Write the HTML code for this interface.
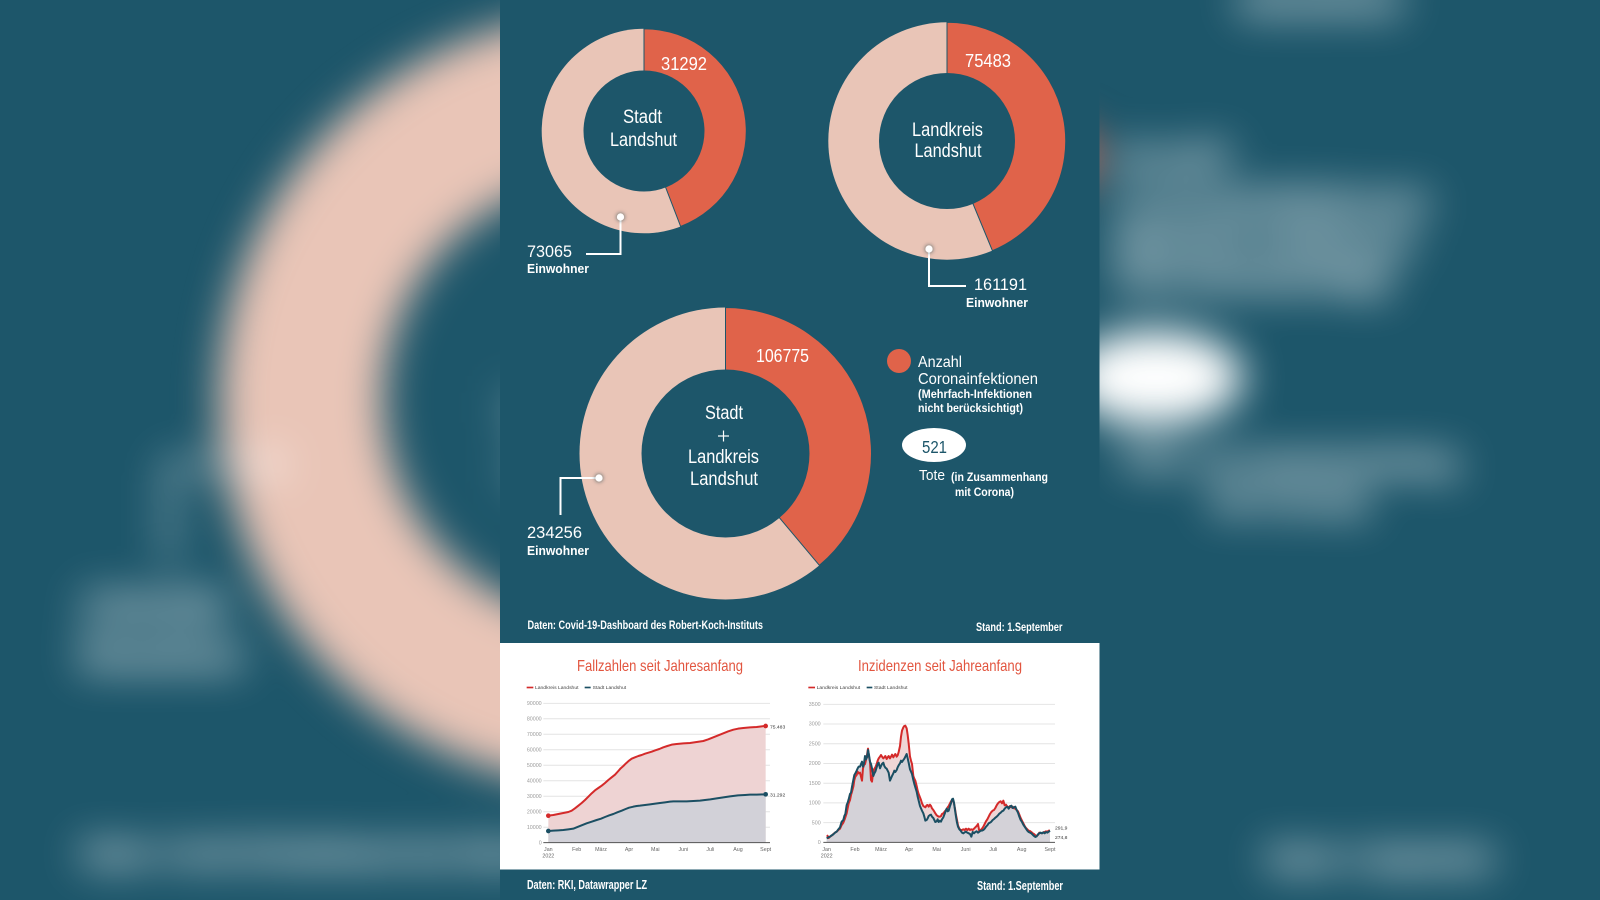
<!DOCTYPE html>
<html><head><meta charset="utf-8">
<style>
html,body{margin:0;padding:0;background:#1d566a;width:1600px;height:900px;overflow:hidden;}
svg{display:block;position:absolute;left:0;top:0;}
.n{font-family:"Liberation Sans Narrow","Liberation Sans",sans-serif;fill:#fff;}
.b{font-weight:bold;}
.t{font-family:"Liberation Sans",sans-serif;}
.s{stroke:#fff;stroke-width:0.4;}
</style></head>
<body>
<svg width="1600" height="900" viewBox="0 0 1600 900" xmlns="http://www.w3.org/2000/svg">
<defs>
<filter id="blur" filterUnits="userSpaceOnUse" x="0" y="0" width="1600" height="900" color-interpolation-filters="sRGB">
<feGaussianBlur stdDeviation="21"/>
</filter>
<filter id="dsh" x="-3" y="-3" width="7" height="7">
<feDropShadow dx="0" dy="0" stdDeviation="2" flood-color="#0a2a36" flood-opacity="0.8"/>
</filter>
</defs>
<rect x="0" y="0" width="1600" height="900" fill="#1d566a"/>

<g filter="url(#blur)">
<g transform="translate(605,400) scale(2.64) translate(-725.5,-453.5)">
<circle cx="725.5" cy="453.5" r="146" fill="#e9c5b7"/>
<path d="M725.5 453.5 L725.5 307.5 A146 146 0 0 1 819.35 565.34 Z" fill="#e0634a"/>
<circle cx="725.5" cy="453.5" r="84" fill="#1d566a"/>
<polyline points="599,478 560.5,478 560.5,515" fill="none" stroke="#fff" stroke-width="2.2"/>
<circle cx="599" cy="478" r="4.2" fill="#fff"/>
<text class="n s" x="974" y="290" font-size="17" textLength="53" lengthAdjust="spacingAndGlyphs">161191</text>
<text class="n b s" x="966" y="307" font-size="12.5" textLength="62" lengthAdjust="spacingAndGlyphs">Einwohner</text>
<text class="n s" x="527" y="538" font-size="17" textLength="55" lengthAdjust="spacingAndGlyphs">234256</text>
<text class="n b s" x="527" y="555" font-size="12.5" textLength="62" lengthAdjust="spacingAndGlyphs">Einwohner</text>
<text class="n s" x="724" y="419" font-size="19" text-anchor="middle" textLength="38" lengthAdjust="spacingAndGlyphs">Stadt</text>
<text class="n s" x="723.5" y="442" font-size="17" text-anchor="middle">+</text>
<text class="n s" x="723.5" y="463" font-size="19" text-anchor="middle" textLength="71" lengthAdjust="spacingAndGlyphs">Landkreis</text>
<text class="n s" x="724" y="485" font-size="19" text-anchor="middle" textLength="68" lengthAdjust="spacingAndGlyphs">Landshut</text>
<circle cx="899" cy="361" r="12" fill="#e0634a"/>
<text class="n s" x="918" y="367" font-size="16" textLength="44" lengthAdjust="spacingAndGlyphs">Anzahl</text>
<text class="n s" x="918" y="384" font-size="16" textLength="120" lengthAdjust="spacingAndGlyphs">Coronainfektionen</text>
<text class="n b s" x="918" y="398" font-size="12" textLength="114" lengthAdjust="spacingAndGlyphs">(Mehrfach-Infektionen</text>
<text class="n b s" x="918" y="412" font-size="12" textLength="105" lengthAdjust="spacingAndGlyphs">nicht berücksichtigt)</text>
<ellipse cx="934" cy="445" rx="33" ry="18" fill="#fff"/>
<text class="n s" x="919" y="480" font-size="15" textLength="26" lengthAdjust="spacingAndGlyphs">Tote</text>
<text class="n b s" x="951" y="481" font-size="12" textLength="97" lengthAdjust="spacingAndGlyphs">(in Zusammenhang</text>
<text class="n b s" x="955" y="496" font-size="12" textLength="59" lengthAdjust="spacingAndGlyphs">mit Corona)</text>
<text class="n b s" x="527.5" y="629" font-size="11.5" textLength="235.5" lengthAdjust="spacingAndGlyphs">Daten: Covid-19-Dashboard des Robert-Koch-Instituts</text>
<text class="n b s" x="976" y="631" font-size="11.5" textLength="86.5" lengthAdjust="spacingAndGlyphs">Stand: 1.September</text>
</g>
</g>

<!-- central panel -->
<rect x="500" y="0" width="599.5" height="643" fill="#1d566a"/>
<rect x="500" y="643" width="599.5" height="226.5" fill="#ffffff"/>
<rect x="500" y="869.5" width="599.5" height="30.5" fill="#1d566a"/>

<!-- donut 1 -->
<circle cx="644" cy="131" r="102.3" fill="#e9c5b7"/>
<path d="M644 131 L644 28.7 A102.3 102.3 0 0 1 680.66 226.5 Z" fill="#e0634a" stroke="#1d566a" stroke-width="1"/>
<circle cx="644" cy="131" r="60.5" fill="#1d566a"/>
<text class="n" x="684" y="70" font-size="18" text-anchor="middle" textLength="46" lengthAdjust="spacingAndGlyphs">31292</text>
<text class="n" x="642.5" y="123" font-size="19" text-anchor="middle" textLength="39" lengthAdjust="spacingAndGlyphs">Stadt</text>
<text class="n" x="643.5" y="146" font-size="19" text-anchor="middle" textLength="67" lengthAdjust="spacingAndGlyphs">Landshut</text>
<polyline points="620.5,217 620.5,254 586,254" fill="none" stroke="#fff" stroke-width="2"/>
<circle cx="620.5" cy="217" r="3.6" fill="#fff" filter="url(#dsh)"/>
<text class="n" x="527" y="257" font-size="17" textLength="45" lengthAdjust="spacingAndGlyphs">73065</text>
<text class="n b" x="527" y="273" font-size="12.5" textLength="62" lengthAdjust="spacingAndGlyphs">Einwohner</text>

<!-- donut 2 -->
<circle cx="947" cy="141" r="118.7" fill="#e9c5b7"/>
<path d="M947 141 L947 22.3 A118.7 118.7 0 0 1 992.43 250.67 Z" fill="#e0634a" stroke="#1d566a" stroke-width="1"/>
<circle cx="947" cy="141" r="68" fill="#1d566a"/>
<text class="n" x="988" y="67" font-size="18" text-anchor="middle" textLength="46" lengthAdjust="spacingAndGlyphs">75483</text>
<text class="n" x="947.5" y="136" font-size="19" text-anchor="middle" textLength="71" lengthAdjust="spacingAndGlyphs">Landkreis</text>
<text class="n" x="948" y="157" font-size="19" text-anchor="middle" textLength="67" lengthAdjust="spacingAndGlyphs">Landshut</text>
<polyline points="929,249 929,286 966,286" fill="none" stroke="#fff" stroke-width="2"/>
<circle cx="929" cy="249" r="3.6" fill="#fff" filter="url(#dsh)"/>
<text class="n" x="974" y="290" font-size="17" textLength="53" lengthAdjust="spacingAndGlyphs">161191</text>
<text class="n b" x="966" y="307" font-size="12.5" textLength="62" lengthAdjust="spacingAndGlyphs">Einwohner</text>

<!-- donut 3 -->
<circle cx="725.5" cy="453.5" r="146" fill="#e9c5b7"/>
<path d="M725.5 453.5 L725.5 307.5 A146 146 0 0 1 819.35 565.34 Z" fill="#e0634a" stroke="#1d566a" stroke-width="1"/>
<circle cx="725.5" cy="453.5" r="84" fill="#1d566a"/>
<text class="n" x="782.5" y="362" font-size="18" text-anchor="middle" textLength="53" lengthAdjust="spacingAndGlyphs">106775</text>
<text class="n" x="724" y="419" font-size="19" text-anchor="middle" textLength="38" lengthAdjust="spacingAndGlyphs">Stadt</text>
<line x1="718" y1="436" x2="729" y2="436" stroke="#fff" stroke-width="1.2"/>
<line x1="723.5" y1="430.5" x2="723.5" y2="441.5" stroke="#fff" stroke-width="1.2"/>
<text class="n" x="723.5" y="463" font-size="19" text-anchor="middle" textLength="71" lengthAdjust="spacingAndGlyphs">Landkreis</text>
<text class="n" x="724" y="485" font-size="19" text-anchor="middle" textLength="68" lengthAdjust="spacingAndGlyphs">Landshut</text>
<polyline points="599,478 560.5,478 560.5,515" fill="none" stroke="#fff" stroke-width="2"/>
<circle cx="599" cy="478" r="3.6" fill="#fff" filter="url(#dsh)"/>
<text class="n" x="527" y="538" font-size="17" textLength="55" lengthAdjust="spacingAndGlyphs">234256</text>
<text class="n b" x="527" y="555" font-size="12.5" textLength="62" lengthAdjust="spacingAndGlyphs">Einwohner</text>

<!-- legend -->
<circle cx="899" cy="361" r="12" fill="#e0634a"/>
<text class="n" x="918" y="367" font-size="16" textLength="44" lengthAdjust="spacingAndGlyphs">Anzahl</text>
<text class="n" x="918" y="384" font-size="16" textLength="120" lengthAdjust="spacingAndGlyphs">Coronainfektionen</text>
<text class="n b" x="918" y="398" font-size="12" textLength="114" lengthAdjust="spacingAndGlyphs">(Mehrfach-Infektionen</text>
<text class="n b" x="918" y="412" font-size="12" textLength="105" lengthAdjust="spacingAndGlyphs">nicht berücksichtigt)</text>
<ellipse cx="934" cy="445" rx="32" ry="17" fill="#fff"/>
<text class="n" x="934.5" y="453" font-size="17.5" text-anchor="middle" textLength="25" lengthAdjust="spacingAndGlyphs" style="fill:#1d566a">521</text>
<text class="n" x="919" y="480" font-size="15" textLength="26" lengthAdjust="spacingAndGlyphs">Tote</text>
<text class="n b" x="951" y="481" font-size="12" textLength="97" lengthAdjust="spacingAndGlyphs">(in Zusammenhang</text>
<text class="n b" x="955" y="496" font-size="12" textLength="59" lengthAdjust="spacingAndGlyphs">mit Corona)</text>

<text class="n b" x="527.5" y="629" font-size="11.5" textLength="235.5" lengthAdjust="spacingAndGlyphs">Daten: Covid-19-Dashboard des Robert-Koch-Instituts</text>
<text class="n b" x="976" y="631" font-size="11.5" textLength="86.5" lengthAdjust="spacingAndGlyphs">Stand: 1.September</text>

<!-- chart titles -->
<text class="n" x="660" y="671" font-size="16" text-anchor="middle" textLength="166" lengthAdjust="spacingAndGlyphs" style="fill:#e2553f">Fallzahlen seit Jahresanfang</text>
<text class="n" x="940" y="671" font-size="16" text-anchor="middle" textLength="164" lengthAdjust="spacingAndGlyphs" style="fill:#e2553f">Inzidenzen seit Jahreanfang</text>

<!-- chart 1 (zoom coords) -->
<g transform="translate(500,640) scale(0.33333)">
<g stroke="#e4e4e4" stroke-width="3">
<line x1="130" y1="190" x2="810" y2="190"/>
<line x1="130" y1="236.4" x2="810" y2="236.4"/>
<line x1="130" y1="282.9" x2="810" y2="282.9"/>
<line x1="130" y1="329.3" x2="810" y2="329.3"/>
<line x1="130" y1="375.8" x2="810" y2="375.8"/>
<line x1="130" y1="422.2" x2="810" y2="422.2"/>
<line x1="130" y1="468.7" x2="810" y2="468.7"/>
<line x1="130" y1="515.1" x2="810" y2="515.1"/>
<line x1="130" y1="561.6" x2="810" y2="561.6"/>
</g>
<g class="t" font-size="16" fill="#9a9a9a" text-anchor="end">
<text x="125" y="195">90000</text>
<text x="125" y="241">80000</text>
<text x="125" y="288">70000</text>
<text x="125" y="334">60000</text>
<text x="125" y="381">50000</text>
<text x="125" y="427">40000</text>
<text x="125" y="474">30000</text>
<text x="125" y="520">20000</text>
<text x="125" y="567">10000</text>
<text x="125" y="613">0</text>
</g>
<rect x="80" y="140" width="20" height="5" fill="#d42a2a"/>
<text class="t" x="105" y="147" font-size="15" fill="#444">Landkreis Landshut</text>
<rect x="254" y="140" width="18" height="5" fill="#1b4f63"/>
<text class="t" x="278" y="147" font-size="15" fill="#444">Stadt Landshut</text>
<polygon fill="#eed3d3" points="145,527 160,525 175,522 190,519 205,516 215,512 225,505 235,497 245,489 255,480 265,470 275,460 285,451 295,444 305,437 315,429 325,420 335,412 345,404 355,393 362,385 370,378 378,370 387,362 395,356 405,352 415,348 425,345 435,341 445,338 455,335 466,331 478,327 490,322 502,318 515,314 530,312 550,310 570,309 590,306 610,303 625,298 640,292 655,286 670,280 685,274 700,269 714,266 730,264 750,262 770,261 785,259 797,258 797,608 145,608"/>
<polygon fill="#d2d1d8" points="145,573 160,572 175,571 190,570 205,568 220,566 230,562 245,556 260,550 275,545 290,540 303,536 315,531 328,526 340,522 352,517 365,512 377,507 387,503 400,500 410,498 420,497 435,495 450,493 466,491 480,489 495,487 510,485 520,484 540,484 560,484 580,483 600,482 615,480 631,478 650,475 670,472 690,469 714,466 735,465 750,464 770,464 797,463 797,608 145,608"/>
<line x1="130" y1="608" x2="810" y2="608" stroke="#555" stroke-width="3"/>
<polyline fill="none" stroke="#d42a2a" stroke-width="6" stroke-linejoin="round" points="145,527 160,525 175,522 190,519 205,516 215,512 225,505 235,497 245,489 255,480 265,470 275,460 285,451 295,444 305,437 315,429 325,420 335,412 345,404 355,393 362,385 370,378 378,370 387,362 395,356 405,352 415,348 425,345 435,341 445,338 455,335 466,331 478,327 490,322 502,318 515,314 530,312 550,310 570,309 590,306 610,303 625,298 640,292 655,286 670,280 685,274 700,269 714,266 730,264 750,262 770,261 785,259 797,258"/>
<polyline fill="none" stroke="#1b4f63" stroke-width="6" stroke-linejoin="round" points="145,573 160,572 175,571 190,570 205,568 220,566 230,562 245,556 260,550 275,545 290,540 303,536 315,531 328,526 340,522 352,517 365,512 377,507 387,503 400,500 410,498 420,497 435,495 450,493 466,491 480,489 495,487 510,485 520,484 540,484 560,484 580,483 600,482 615,480 631,478 650,475 670,472 690,469 714,466 735,465 750,464 770,464 797,463"/>
<circle cx="145" cy="527" r="7" fill="#d42a2a"/>
<circle cx="145" cy="573" r="7" fill="#1b4f63"/>
<circle cx="797" cy="258" r="7" fill="#d42a2a"/>
<circle cx="797" cy="463" r="7" fill="#1b4f63"/>
<text class="t" x="810" y="265" font-size="15" fill="#333">75.483</text>
<text class="t" x="810" y="470" font-size="15" fill="#333">31.292</text>
<g class="t" font-size="16" fill="#666" text-anchor="middle">
<text x="145" y="633">Jan</text><text x="145" y="652">2022</text>
<text x="230" y="633">Feb</text>
<text x="303" y="633">März</text>
<text x="387" y="633">Apr</text>
<text x="466" y="633">Mai</text>
<text x="550" y="633">Juni</text>
<text x="631" y="633">Juli</text>
<text x="714" y="633">Aug</text>
<text x="797" y="633">Sept</text>
</g>
</g>

<!-- chart 2 (zoom coords) -->
<g transform="translate(790,640) scale(0.33333)">
<g stroke="#e4e4e4" stroke-width="3">
<line x1="100" y1="193" x2="795" y2="193"/>
<line x1="100" y1="252.1" x2="795" y2="252.1"/>
<line x1="100" y1="311.3" x2="795" y2="311.3"/>
<line x1="100" y1="370.4" x2="795" y2="370.4"/>
<line x1="100" y1="429.6" x2="795" y2="429.6"/>
<line x1="100" y1="488.7" x2="795" y2="488.7"/>
<line x1="100" y1="547.9" x2="795" y2="547.9"/>
</g>
<g class="t" font-size="16" fill="#9a9a9a" text-anchor="end">
<text x="92" y="198">3500</text>
<text x="92" y="257">3000</text>
<text x="92" y="316">2500</text>
<text x="92" y="375">2000</text>
<text x="92" y="435">1500</text>
<text x="92" y="494">1000</text>
<text x="92" y="553">500</text>
<text x="92" y="612">0</text>
</g>
<rect x="55" y="140" width="20" height="5" fill="#d42a2a"/>
<text class="t" x="80" y="147" font-size="15" fill="#444">Landkreis Landshut</text>
<rect x="230" y="140" width="17" height="5" fill="#1b4f63"/>
<text class="t" x="252" y="147" font-size="15" fill="#444">Stadt Landshut</text>
<polygon fill="#efd6d6" points="110,586 113,588 116,594 120,590 125,587 130,582 135,578 140,575 145,570 150,566 155,555 160,548 165,535 170,520 173,505 176,490 180,480 183,465 186,455 190,440 193,420 196,410 200,405 203,395 206,400 210,398 213,410 216,422 219,385 222,375 225,372 228,360 231,345 234,326 237,350 240,365 243,420 246,425 249,400 252,388 256,382 260,372 263,362 266,355 270,350 273,345 276,350 280,355 283,352 286,348 290,357 293,352 296,348 300,355 303,350 306,344 310,352 313,346 316,342 320,350 323,346 326,336 330,318 333,290 336,272 340,262 343,258 346,257 350,265 353,285 356,310 360,350 363,362 366,372 370,408 373,416 376,422 380,438 383,452 386,462 390,472 393,480 396,490 400,498 403,500 406,502 410,496 413,495 416,500 420,494 423,498 426,505 430,510 433,515 436,520 440,526 443,528 446,530 450,530 453,528 456,522 460,520 463,516 466,512 470,508 473,502 476,498 480,490 483,484 486,480 489,478 492,490 495,506 498,525 501,540 504,556 508,566 512,570 516,570 520,568 524,570 528,566 532,570 536,566 540,570 544,568 548,570 552,566 556,562 560,558 564,552 568,574 572,570 576,566 580,560 584,552 588,544 592,538 596,530 600,522 604,516 608,512 612,510 616,504 620,496 624,490 628,486 632,484 636,490 640,482 644,496 648,494 652,500 656,502 660,498 664,502 668,500 672,505 676,506 680,510 684,514 688,524 692,534 696,542 700,550 704,558 708,564 712,568 716,572 720,573 724,576 728,580 732,582 736,586 740,588 744,585 748,578 752,579 756,580 760,577 764,576 768,574 772,575 776,572 780,572 780,607 110,607"/>
<polygon fill="#d4d2d8" points="110,595 115,592 120,590 125,586 130,583 135,578 140,575 145,568 150,562 155,545 160,540 163,528 166,522 170,495 173,488 176,478 180,462 183,458 186,440 190,420 193,405 196,400 200,392 203,385 206,380 210,380 213,372 216,365 219,380 222,370 225,348 228,358 231,352 234,330 237,345 240,365 243,372 246,385 250,408 253,400 256,395 260,382 263,372 266,368 270,385 273,378 276,372 280,368 283,378 286,383 290,386 293,392 296,398 300,422 303,415 306,408 310,400 313,392 316,396 320,390 323,382 326,376 330,370 333,362 336,366 340,360 343,356 346,350 350,342 353,355 356,368 360,388 363,395 366,402 370,420 373,432 376,442 380,455 383,470 386,482 390,498 393,505 396,512 400,520 403,530 406,542 410,540 413,535 416,528 420,525 423,524 426,530 430,534 433,540 436,546 440,544 443,538 446,546 450,542 453,545 456,538 460,532 463,524 466,516 470,506 473,514 476,512 480,498 483,490 486,478 489,476 492,488 495,510 498,530 501,548 504,560 508,568 512,572 516,578 520,580 524,577 528,575 532,578 536,580 540,582 544,590 548,576 552,580 556,576 560,574 564,578 568,575 572,572 576,572 580,570 584,566 588,560 592,556 596,550 600,548 604,545 608,540 612,537 616,533 620,530 624,526 628,521 632,518 636,514 640,512 644,506 648,502 652,500 656,506 660,500 664,497 668,504 672,502 676,500 680,510 684,518 688,530 692,540 696,546 700,554 704,560 708,566 712,572 716,576 720,578 724,580 728,584 732,588 736,591 740,589 744,583 748,580 752,578 756,580 760,577 764,580 768,576 772,578 776,575 780,572 780,607 110,607"/>
<line x1="100" y1="607" x2="795" y2="607" stroke="#555" stroke-width="3"/>
<polyline fill="none" stroke="#d42a2a" stroke-width="6" stroke-linejoin="round" points="110,586 113,588 116,594 120,590 125,587 130,582 135,578 140,575 145,570 150,566 155,555 160,548 165,535 170,520 173,505 176,490 180,480 183,465 186,455 190,440 193,420 196,410 200,405 203,395 206,400 210,398 213,410 216,422 219,385 222,375 225,372 228,360 231,345 234,326 237,350 240,365 243,420 246,425 249,400 252,388 256,382 260,372 263,362 266,355 270,350 273,345 276,350 280,355 283,352 286,348 290,357 293,352 296,348 300,355 303,350 306,344 310,352 313,346 316,342 320,350 323,346 326,336 330,318 333,290 336,272 340,262 343,258 346,257 350,265 353,285 356,310 360,350 363,362 366,372 370,408 373,416 376,422 380,438 383,452 386,462 390,472 393,480 396,490 400,498 403,500 406,502 410,496 413,495 416,500 420,494 423,498 426,505 430,510 433,515 436,520 440,526 443,528 446,530 450,530 453,528 456,522 460,520 463,516 466,512 470,508 473,502 476,498 480,490 483,484 486,480 489,478 492,490 495,506 498,525 501,540 504,556 508,566 512,570 516,570 520,568 524,570 528,566 532,570 536,566 540,570 544,568 548,570 552,566 556,562 560,558 564,552 568,574 572,570 576,566 580,560 584,552 588,544 592,538 596,530 600,522 604,516 608,512 612,510 616,504 620,496 624,490 628,486 632,484 636,490 640,482 644,496 648,494 652,500 656,502 660,498 664,502 668,500 672,505 676,506 680,510 684,514 688,524 692,534 696,542 700,550 704,558 708,564 712,568 716,572 720,573 724,576 728,580 732,582 736,586 740,588 744,585 748,578 752,579 756,580 760,577 764,576 768,574 772,575 776,572 780,572"/>
<polyline fill="none" stroke="#1b4f63" stroke-width="6" stroke-linejoin="round" points="110,595 115,592 120,590 125,586 130,583 135,578 140,575 145,568 150,562 155,545 160,540 163,528 166,522 170,495 173,488 176,478 180,462 183,458 186,440 190,420 193,405 196,400 200,392 203,385 206,380 210,380 213,372 216,365 219,380 222,370 225,348 228,358 231,352 234,330 237,345 240,365 243,372 246,385 250,408 253,400 256,395 260,382 263,372 266,368 270,385 273,378 276,372 280,368 283,378 286,383 290,386 293,392 296,398 300,422 303,415 306,408 310,400 313,392 316,396 320,390 323,382 326,376 330,370 333,362 336,366 340,360 343,356 346,350 350,342 353,355 356,368 360,388 363,395 366,402 370,420 373,432 376,442 380,455 383,470 386,482 390,498 393,505 396,512 400,520 403,530 406,542 410,540 413,535 416,528 420,525 423,524 426,530 430,534 433,540 436,546 440,544 443,538 446,546 450,542 453,545 456,538 460,532 463,524 466,516 470,506 473,514 476,512 480,498 483,490 486,478 489,476 492,488 495,510 498,530 501,548 504,560 508,568 512,572 516,578 520,580 524,577 528,575 532,578 536,580 540,582 544,590 548,576 552,580 556,576 560,574 564,578 568,575 572,572 576,572 580,570 584,566 588,560 592,556 596,550 600,548 604,545 608,540 612,537 616,533 620,530 624,526 628,521 632,518 636,514 640,512 644,506 648,502 652,500 656,506 660,500 664,497 668,504 672,502 676,500 680,510 684,518 688,530 692,540 696,546 700,554 704,560 708,566 712,572 716,576 720,578 724,580 728,584 732,588 736,591 740,589 744,583 748,580 752,578 756,580 760,577 764,580 768,576 772,578 776,575 780,572"/>
<text class="t" x="795" y="568" font-size="15" fill="#333">291,9</text>
<text class="t" x="795" y="597" font-size="15" fill="#333">274,8</text>
<g class="t" font-size="16" fill="#666" text-anchor="middle">
<text x="110" y="633">Jan</text><text x="110" y="652">2022</text>
<text x="195" y="633">Feb</text>
<text x="273" y="633">März</text>
<text x="357" y="633">Apr</text>
<text x="440" y="633">Mai</text>
<text x="527" y="633">Juni</text>
<text x="610" y="633">Juli</text>
<text x="695" y="633">Aug</text>
<text x="780" y="633">Sept</text>
</g>
</g>

<!-- bottom footer -->
<text class="n b" x="527" y="889" font-size="12.5" textLength="120" lengthAdjust="spacingAndGlyphs">Daten: RKI, Datawrapper LZ</text>
<text class="n b" x="977" y="890" font-size="12.5" textLength="86" lengthAdjust="spacingAndGlyphs">Stand: 1.September</text>
</svg>
</body></html>
